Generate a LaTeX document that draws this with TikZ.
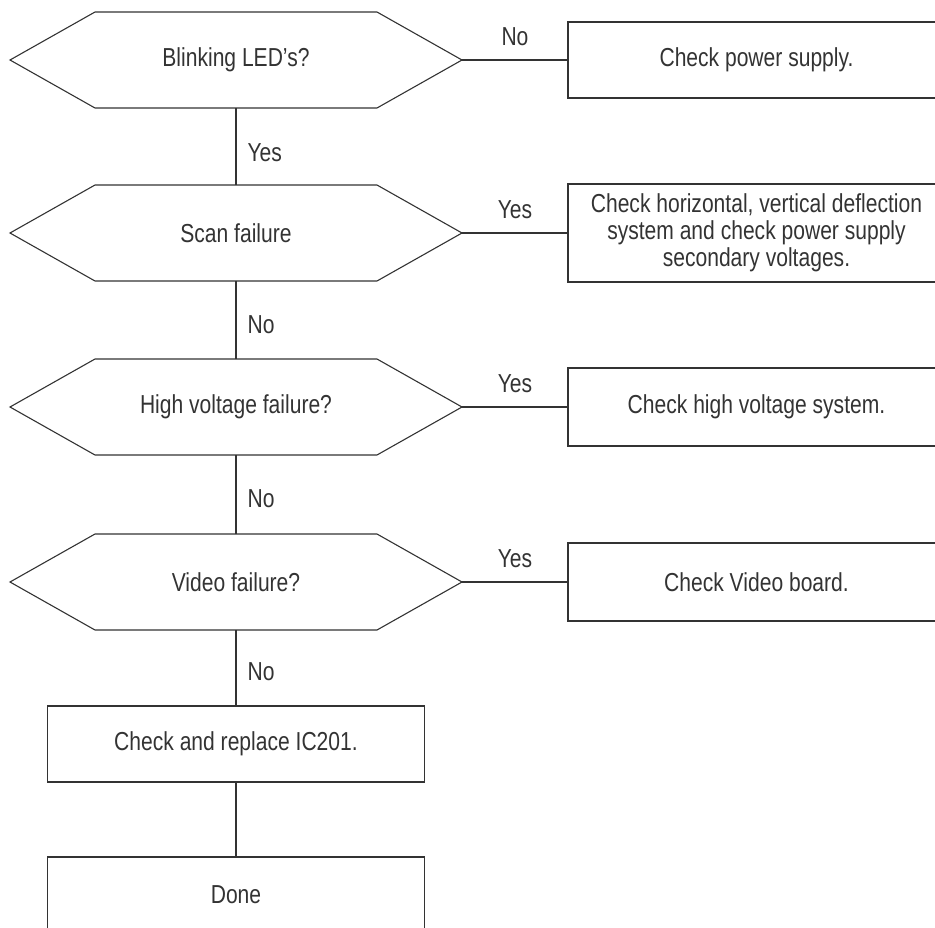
\documentclass[tikz,border=0pt]{standalone}
\usepackage{fontspec}
\setmainfont{Liberation Sans}[FakeStretch=0.81]

\newcommand\hexpath[1]{\draw ([xshift=85pt]#1.north west) -- ([xshift=-85pt]#1.north east) -- (#1.east) -- ([xshift=-85pt]#1.south east) -- ([xshift=85pt]#1.south west) -- (#1.west) -- cycle;}

\begin{document}
\begin{tikzpicture}[x=1pt,y=-1pt,line width=1.1pt,color=black!80,line join=miter,
  font=\fontsize{26}{27}\selectfont,
  decide/.style={minimum width=452pt,minimum height=96pt,inner sep=0pt,outer sep=0pt},
  todo/.style={draw,minimum width=377pt,minimum height=76pt,inner sep=0pt,outer sep=0pt,align=center},
  lbl/.style={inner sep=0pt}]
\path[use as bounding box,clip] (0,0) rectangle (935,927);
% questions
\node[decide] (led) at (236,60) {Blinking LED’s?};
\node[decide] (scan) at (236,233) {Scan failure};
\node[decide] (hv) at (236,407) {High voltage failure?};
\node[decide] (video) at (236,582) {Video failure?};
\hexpath{led}
\hexpath{scan}
\hexpath{hv}
\hexpath{video}
% actions
\node[todo] (psu) at (756.5,60) {Check power supply.};
\node[todo,minimum height=98pt] (defl) at (756.5,233) {Check horizontal, vertical deflection\\system and check power supply\\secondary voltages.};
\node[todo,minimum height=78pt] (hvsys) at (756.5,407) {Check high voltage system.};
\node[todo,minimum height=78pt] (vboard) at (756.5,582) {Check Video board.};
\node[todo] (ic) at (236,744) {Check and replace IC201.};
\node[todo] (done) at (236,895) {Done};
% connectors
\draw (led.east) -- node[lbl,above=14pt] (no1) {No} (psu.west);
\draw (scan.east) -- node[lbl,above=14pt] (yes2) {Yes} (defl.west);
\draw (hv.east) -- node[lbl,above=14pt] (yes3) {Yes} (hvsys.west);
\draw (video.east) -- node[lbl,above=14pt] (yes4) {Yes} (vboard.west);
\draw (led.south) -- node[lbl,right=11pt,pos=0.58] (yes1) {Yes} (scan.north);
\draw (scan.south) -- node[lbl,right=11pt,pos=0.56] (no2) {No} (hv.north);
\draw (hv.south) -- node[lbl,right=11pt,pos=0.55] (no3) {No} (video.north);
\draw (video.south) -- node[lbl,right=11pt,pos=0.55] (no4) {No} (ic.north);
\draw (ic.south) -- (done.north);
\end{tikzpicture}
\end{document}
